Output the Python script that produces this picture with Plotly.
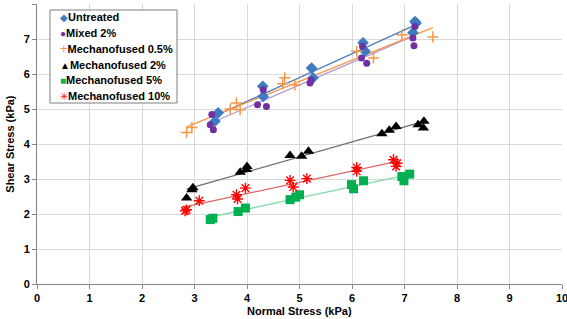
import numpy as np
import plotly.graph_objects as go

# ---- data ----
untreated_x = [3.39, 3.45, 4.30, 4.31, 5.23, 5.26, 6.21, 6.25, 7.20, 7.22, 7.16]
untreated_y = [4.65, 4.89, 5.65, 5.36, 6.17, 5.89, 6.89, 6.65, 7.50, 7.45, 7.18]

mixed_x = [3.30, 3.33, 3.36, 4.20, 4.37, 4.31, 5.20, 5.22, 6.18, 6.28, 6.20, 7.20, 7.16, 7.18]
mixed_y = [4.55, 4.84, 4.41, 5.12, 5.07, 5.55, 5.74, 5.83, 6.46, 6.31, 6.79, 7.36, 7.03, 6.81]

mech05_x = [2.85, 2.95, 3.68, 3.80, 3.87, 4.72, 4.68, 4.91, 6.09, 6.41, 6.95, 7.54]
mech05_y = [4.33, 4.47, 5.00, 5.17, 4.98, 5.89, 5.72, 5.69, 6.65, 6.46, 7.12, 7.06]

mech2_x = [2.85, 2.95, 2.97, 3.87, 3.99, 4.00, 4.82, 5.04, 5.17, 6.57, 6.71, 6.84, 7.26, 7.37, 7.36]
mech2_y = [2.46, 2.69, 2.75, 3.19, 3.27, 3.36, 3.67, 3.65, 3.79, 4.29, 4.39, 4.50, 4.55, 4.65, 4.46]

mech5_x = [3.30, 3.35, 3.83, 3.97, 4.82, 4.93, 5.00, 5.99, 6.03, 6.22, 6.95, 6.99, 7.10]
mech5_y = [1.84, 1.88, 2.07, 2.17, 2.41, 2.48, 2.55, 2.84, 2.72, 2.95, 3.07, 2.95, 3.14]

mech10_x = [2.82, 2.85, 3.09, 3.80, 3.82, 3.97, 4.82, 4.88, 5.14, 6.09, 6.09, 6.79, 6.84, 6.86]
mech10_y = [2.09, 2.12, 2.38, 2.55, 2.43, 2.74, 2.96, 2.77, 3.01, 3.33, 3.22, 3.55, 3.36, 3.45]

series_names = ["Untreated", "Mixed 2%", "Mechanofused 0.5%", "Mechanofused 2%",
                "Mechanofused 5%", "Mechanofused 10%"]
legend_glyphs = ["◆", "●", "+", "▲", "■", "✳"]

x_ticks = list(range(0, 11))
y_ticks = list(range(0, 9))

x_title = "Normal Stress (kPa)"
y_title = "Shear Stress (kPa)"

# ---- styles ----
marker_colors = ["#3D7CC0", "#7030A0", "#F79646", "#000000", "#00B050", "#FF0000"]
line_colors = ["#4A7EBB", "#B49BD8", "#F79646", "#6E6E6E", "#80D8A4", "#E06666"]
marker_styles = [
    dict(symbol="diamond", size=9),
    dict(symbol="circle", size=7),
    dict(symbol="cross-thin-open", size=8, line=dict(width=1.5, color="#F79646")),
    dict(symbol="triangle-up", size=10),
    dict(symbol="square", size=9),
    dict(symbol="asterisk-open", size=9, line=dict(width=1.4, color="#FF0000")),
]
all_x = [untreated_x, mixed_x, mech05_x, mech2_x, mech5_x, mech10_x]
all_y = [untreated_y, mixed_y, mech05_y, mech2_y, mech5_y, mech10_y]

fig = go.Figure()

# trendlines (least squares fit of each series)
for xs, ys, lc in zip(all_x, all_y, line_colors):
    xa = np.array(xs)
    ya = np.array(ys)
    k, b = np.polyfit(xa, ya, 1)
    xl = np.array([xa.min(), xa.max()])
    fig.add_trace(go.Scatter(x=xl, y=k * xl + b, mode="lines",
                             line=dict(color=lc, width=1.3),
                             showlegend=False, hoverinfo="skip"))

for xs, ys, mc, ms, name in zip(all_x, all_y, marker_colors, marker_styles, series_names):
    mk = dict(ms)
    mk["color"] = mc
    fig.add_trace(go.Scatter(x=xs, y=ys, mode="markers", name=name, marker=mk,
                             showlegend=False))

FONT = "Liberation Sans, Arial"
axis_font = dict(family=FONT, size=11, color="#000000", weight="bold")

# compact legend (box + text entries)
PLOT_L, PLOT_W, PLOT_B, PLOT_H = 37, 525, 284, 280
def px_x(p):
    return (p - PLOT_L) / PLOT_W
def px_y(p):
    return (PLOT_B - p) / PLOT_H

legend_rows = [17, 33, 49, 64.5, 80, 96]
annotations = []
for glyph, col, name, row in zip(legend_glyphs, marker_colors, series_names, legend_rows):
    gsize = "13px" if glyph == "+" else "10px"
    annotations.append(dict(
        text=f"<span style='color:{col};font-size:{gsize};font-weight:normal'>{glyph}</span>{name}",
        xref="paper", yref="paper", x=px_x(58), y=px_y(row),
        xanchor="left", yanchor="middle", showarrow=False,
        font=dict(family=FONT, size=11, color="#000000", weight="bold"),
    ))

annotations += [
    dict(text=x_title, xref="paper", yref="paper", x=0.5, y=-0.097,
         xanchor="center", yanchor="middle", showarrow=False, font=axis_font),
    dict(text=y_title, xref="paper", yref="paper", x=-0.052, y=0.5,
         xanchor="center", yanchor="middle", textangle=-90, showarrow=False,
         font=axis_font),
]

fig.update_layout(
    width=567, height=319,
    margin=dict(l=37, r=5, t=4, b=35, autoexpand=False),
    paper_bgcolor="white", plot_bgcolor="white",
    font=dict(family=FONT, size=11, color="#000000"),
    showlegend=False,
    xaxis=dict(
        range=[0, 10], tickvals=x_ticks, ticktext=[str(v) for v in x_ticks],
        showgrid=True, gridcolor="#D9D9D9", gridwidth=1,
        showline=True, linecolor="#868686", linewidth=1,
        ticks="outside", ticklen=4, tickcolor="#868686",
        tickfont=axis_font, zeroline=False, automargin=False,
        ticklabeloverflow="allow",
    ),
    yaxis=dict(
        range=[0, 8], tickvals=y_ticks, ticktext=[str(v) for v in y_ticks],
        showgrid=True, gridcolor="#D9D9D9", gridwidth=1,
        showline=True, linecolor="#868686", linewidth=1,
        ticks="outside", ticklen=4, tickcolor="#868686",
        tickfont=axis_font, zeroline=False, automargin=False,
    ),
    shapes=[dict(type="rect", xref="paper", yref="paper",
                 x0=px_x(50), x1=px_x(177), y0=px_y(103), y1=px_y(10),
                 fillcolor="white", line=dict(color="#7F7F7F", width=1),
                 layer="above")],
    annotations=annotations,
)

fig.write_html("out.html", config={"displayModeBar": False},
               post_script="document.body.style.margin='0';document.body.style.overflow='hidden';")
